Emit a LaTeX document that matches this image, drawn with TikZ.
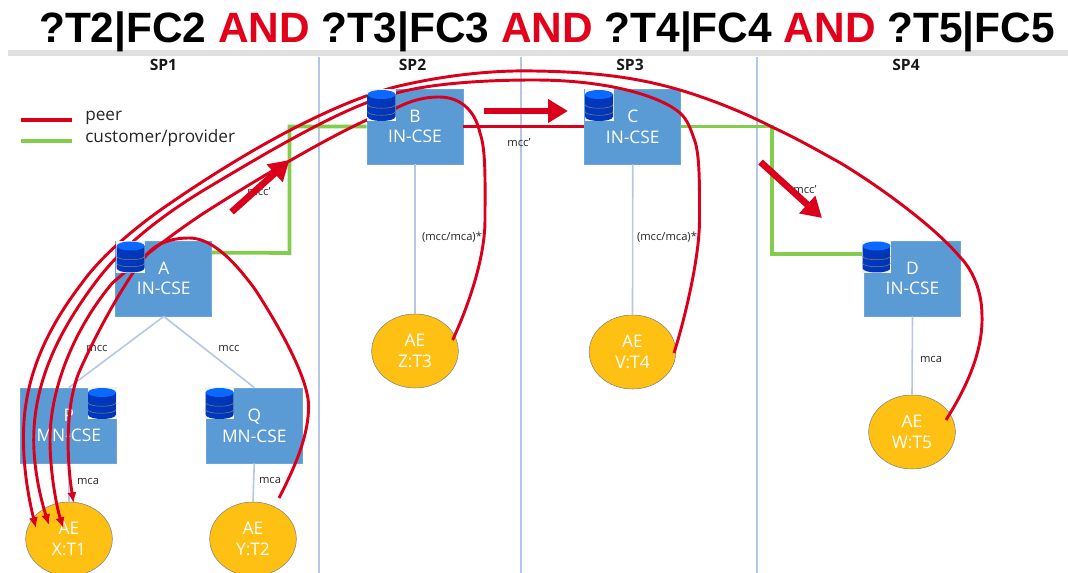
\documentclass[tikz,border=0pt]{standalone}
\usepackage{fontspec}
\usepackage{xcolor}
\usetikzlibrary{shapes.geometric,arrows.meta}
\setmainfont{Open Sans}
\newfontfamily\titlefont{Liberation Sans}
\definecolor{peerred}{RGB}{218,0,28}
\definecolor{titlered}{RGB}{226,0,26}
\definecolor{provgreen}{RGB}{132,204,76}
\definecolor{cseblue}{RGB}{91,155,213}
\definecolor{aeyellow}{RGB}{255,192,20}
\definecolor{linkblue}{RGB}{180,199,231}
\definecolor{dbblue}{RGB}{0,70,240}
\definecolor{dbtop}{RGB}{10,105,255}
\tikzset{
  csebox/.style={draw=cseblue!90!white,fill=cseblue,text=white,minimum width=72pt,minimum height=56.5pt,inner sep=0pt,align=center,font=\fontsize{13}{15.5}\selectfont},
  aenode/.style={ellipse,draw=gray,fill=aeyellow,text=white,minimum width=65pt,minimum height=55.5pt,inner sep=0pt,align=center,font=\fontsize{13}{15.5}\selectfont},
  linkline/.style={draw=linkblue,line width=1.2pt},
  provline/.style={draw=provgreen,line width=2.8pt},
  peerline/.style={draw=peerred,line width=2.3pt},
  routeline/.style={draw=peerred,line width=2.2pt,-{Latex[length=8pt,width=7pt]}},
  hoparrow/.style={draw=peerred,line width=5pt,-{Triangle[length=15pt,width=17pt]}},
  smalltext/.style={inner sep=0pt,font=\fontsize{8.4}{10}\selectfont,text=black!85},
  sptext/.style={inner sep=0pt,font=\bfseries\fontsize{11.7}{14}\selectfont,text=black!90},
  legendtext/.style={inner sep=0pt,anchor=west,font=\fontsize{12.9}{15}\selectfont,text=black!85},
  dbcyl/.pic={
    \fill [white!90!gray] (-14.5,-16) rectangle (14.5,16);
    \path [left color=dbblue!80!black,middle color=dbblue,right color=dbblue!75!black] (-14,-11) -- (-14,11) .. controls (-14,17) and (14,17) .. (14,11) -- (14,-11) -- cycle;
    \draw [black!50,line width=0.4pt] (-14,-1) .. controls (-14,4) and (14,4) .. (14,-1);
    \draw [black!50,line width=0.4pt] (-14,6) .. controls (-14,11) and (14,11) .. (14,6);
    \fill [dbtop] (0,-11) ellipse [x radius=14,y radius=4.5];
  }
}
\begin{document}
\begin{tikzpicture}[x=0.75pt,y=0.75pt,yscale=-1.,xscale=1.]
    \useasboundingbox (0,0) rectangle (1068,573);

    %Title bar
    \fill [black!12] (8,50) rectangle (1068,56);
    % Text Node
    \node (title) at (547,31.5) [inner sep=0pt,font=\titlefont\bfseries\fontsize{31.8}{36}\selectfont] {?T2|FC2 \textcolor{titlered}{AND} ?T3|FC3 \textcolor{titlered}{AND} ?T4|FC4 \textcolor{titlered}{AND} ?T5|FC5};

    %Provider columns
    \draw [linkline] (319,57) -- (319,573);
    \draw [linkline] (521,57) -- (521,573);
    \draw [linkline] (757,57) -- (757,573);
    \node (spa) at (163.5,65) [sptext] {SP1};
    \node (spb) at (412.5,65) [sptext] {SP2};
    \node (spc) at (630,65) [sptext] {SP3};
    \node (spd) at (906,65) [sptext] {SP4};

    %Legend
    \coordinate (lega) at (21,120);
    \coordinate (legb) at (72,120);
    \coordinate (legc) at (21,141);
    \coordinate (legd) at (72,141);
    \draw [peerline] (lega) -- (legb);
    \draw [provline] (legc) -- (legd);
    \node (legpeer) at (85,118) [legendtext] {peer};
    \node (legprov) at (85,138) [legendtext] {customer/provider};

    %CSE boxes
    \node (A) at (163.75,278.5) [csebox] {A\\IN-CSE};
    \node (B) at (415,126.5) [csebox] {B\\IN-CSE};
    \node (C) at (632.75,126.5) [csebox] {C\\IN-CSE};
    \node (D) at (912.5,278.5) [csebox] {D\\IN-CSE};
    \node (P) at (68.75,425.5) [csebox] {P\\MN-CSE};
    \node (Q) at (254.25,425.5) [csebox] {Q\\MN-CSE};

    %AE ellipses
    \node (X) at (69,539) [aenode] {AE\\X:T1};
    \node (Y) at (253,539) [aenode] {AE\\Y:T2};
    \node (Z) at (415,351) [aenode] {AE\\Z:T3};
    \node (V) at (632.5,352) [aenode] {AE\\V:T4};
    \node (W) at (912,432) [aenode] {AE\\W:T5};

    %Reference points
    \draw [linkline] (A.south) -- (P.north);
    \draw [linkline] (A.south) -- (Q.north);
    \draw [linkline] (P.south) -- (X.north);
    \draw [linkline] (Q.south) -- (Y.north);
    \draw [linkline] (B.south) -- (Z.north);
    \draw [linkline] (C.south) -- (V.north);
    \draw [linkline] (D.south) -- (W.north);

    %Peer and provider links
    \coordinate (abend) at (289.5,253);
    \coordinate (bbend) at (289.5,126.5);
    \coordinate (cbend) at (771.7,126.5);
    \coordinate (dbend) at (771.7,254);
    \coordinate (dend) at (865,254);
    \draw [provline] (A.north east) ++(0,12) -- (abend) -- (bbend) -- (B.west);
    \draw [provline] (C.east) -- (cbend) -- (dbend) -- (dend);
    \draw [peerline] (B.east) -- (C.west);

    % Text Node
    \node (mcca) at (259,192) [smalltext] {mcc'};
    \node (mccb) at (519,143) [smalltext] {mcc'};
    \node (mccc) at (805,190) [smalltext] {mcc'};
    \node (mmb) at (452,237.5) [smalltext] {(mcc/mca)*};
    \node (mmc) at (667,237.5) [smalltext] {(mcc/mca)*};
    \node (mccp) at (97,349) [smalltext] {mcc};
    \node (mccq) at (229,349) [smalltext] {mcc};
    \node (mcax) at (88,482) [smalltext] {mca};
    \node (mcay) at (270,481) [smalltext] {mca};
    \node (mcaw) at (931,360) [smalltext] {mca};

    %Hop arrows
    \coordinate (hopa) at (231.6,212);
    \coordinate (hopb) at (289.5,160);
    \coordinate (hopc) at (483.6,111);
    \coordinate (hopd) at (568,111);
    \coordinate (hope) at (760.5,162);
    \coordinate (hopf) at (822,218);
    \draw [hoparrow] (hopa) -- (hopb);
    \draw [hoparrow] (hopc) -- (hopd);
    \draw [hoparrow] (hope) -- (hopf);

    %Routes to X
    \coordinate (starty) at (279,498);
    \coordinate (startz) at (452.6,340);
    \coordinate (startv) at (674,353);
    \coordinate (startw) at (946,420);
    \coordinate (tipa) at (73.6,503);
    \coordinate (tipb) at (63.3,528);
    \coordinate (tipc) at (49,525);
    \coordinate (tipd) at (36,528);
    \draw [routeline] (starty) .. controls (296,465) and (308.6,435) .. (308.6,406) .. controls (308.6,385) and (291,345) .. (255.5,290) .. controls (230,255) and (209,238) .. (189,238) .. controls (169,238) and (153,245) .. (145,257) .. controls (133,270) and (102,320) .. (78.7,373) .. controls (66,405) and (66,455) .. (tipa);
    \draw [routeline] (startz) .. controls (462,320) and (485,265) .. (485,220) .. controls (485,180) and (486,150) .. (480,133) .. controls (475,110) and (460,97) .. (439,97) .. controls (419,97) and (404,104) .. (396.5,108) .. controls (358,120) and (276,167) .. (204,213) .. controls (169,236) and (133,265) .. (112.4,283) .. controls (77,325) and (50,385) .. (50,440) .. controls (50,470) and (56,505) .. (tipb);
    \draw [routeline] (startv) .. controls (683,325) and (699.5,260) .. (699.5,220) .. controls (699.5,190) and (700,160) .. (695.5,143) .. controls (691,130) and (688,120) .. (680,113) .. controls (663,98) and (613,80) .. (534,80) .. controls (480,80) and (429,84) .. (396.5,93) .. controls (347,105) and (276,147) .. (204,190) .. controls (163,215) and (123,245) .. (95,283) .. controls (56,335) and (33.7,385) .. (33.7,440) .. controls (33.7,470) and (41,500) .. (tipc);
    \draw [routeline] (startw) .. controls (968,385) and (983,350) .. (982,316) .. controls (982,285) and (968,265) .. (960,257) .. controls (933,225) and (877,185) .. (840.5,163) .. controls (817,150) and (796,138) .. (772,127) .. controls (745,113) and (713,100) .. (680,90) .. controls (652,82) and (612,72) .. (534,71) .. controls (490,70) and (440,76) .. (395,87) .. controls (337,102) and (255,145) .. (170.6,203) .. controls (138,225) and (102,255) .. (82,283) .. controls (46,330) and (22.5,380) .. (23.5,440) .. controls (23.5,470) and (29,500) .. (tipd);

    %Databases
    \path (130.6,257) pic [transform shape] {dbcyl};
    \path (381.5,105.5) pic [transform shape] {dbcyl};
    \path (599,105.5) pic [transform shape] {dbcyl};
    \path (876.5,257) pic [transform shape] {dbcyl};
    \path (102,403.5) pic [transform shape] {dbcyl};
    \path (219.6,403.5) pic [transform shape] {dbcyl};
\end{tikzpicture}
\end{document}
